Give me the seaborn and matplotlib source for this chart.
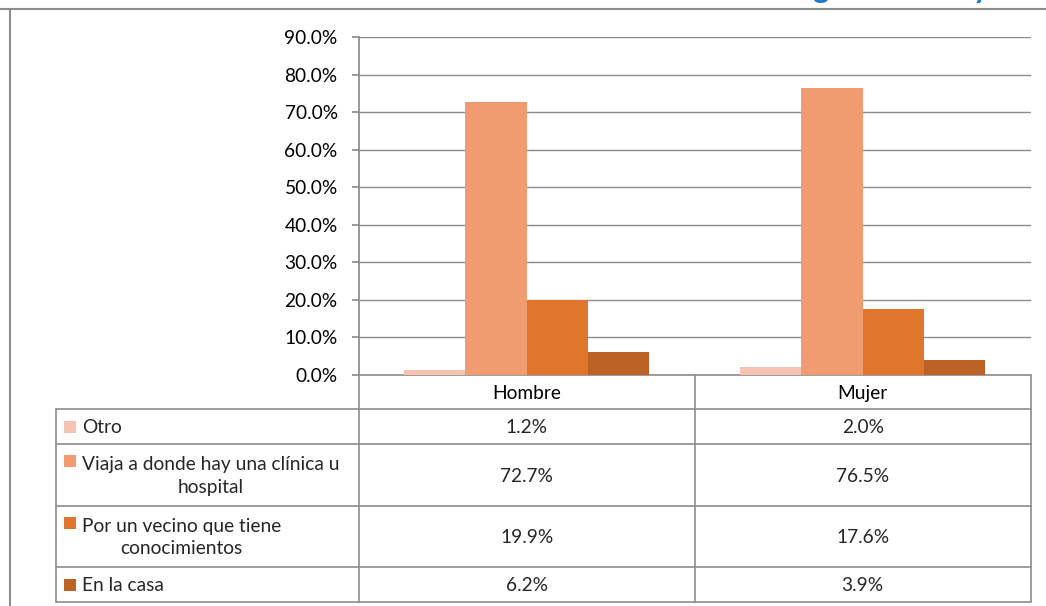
# Gráfico: dónde recibió atención, por sexo (barras + tabla de datos)
import numpy as np
import pandas as pd
import matplotlib
matplotlib.use('Agg')
import matplotlib.pyplot as plt
import seaborn as sns
from matplotlib.patches import Rectangle
from matplotlib.ticker import PercentFormatter

# datos
sexos = ['Hombre', 'Mujer']
categorias = ['Otro',
              'Viaja a donde hay una clínica u\nhospital',
              'Por un vecino que tiene\nconocimientos',
              'En la casa']
hombre = [1.2, 72.7, 19.9, 6.2]
mujer = [2.0, 76.5, 17.6, 3.9]
colores = ['#F5C3B1', '#F09B72', '#E0762E', '#BC6224']
y_ticks = [0, 10, 20, 30, 40, 50, 60, 70, 80, 90]

df = pd.DataFrame({
    'sexo': np.repeat(sexos, len(categorias)),
    'categoria': categorias * len(sexos),
    'valor': hombre + mujer,
})

sns.set_theme(style='white')
plt.rcParams['font.family'] = ['Lato', 'DejaVu Sans']
gris = '#8c8c8c'
fs = 13.8

W, H = 1046, 606
fig = plt.figure(figsize=(W / 100, H / 100), dpi=100)

# zona de barras (en píxeles)
x0, x1 = 358.5, 1030.5
y_top, y_base = 37, 375
ax = fig.add_axes([x0 / W, 1 - y_base / H, (x1 - x0) / W, (y_base - y_top) / H])
ax.patch.set_alpha(0)
sns.barplot(data=df, x='sexo', y='valor', hue='categoria',
            order=sexos, hue_order=categorias, palette=colores,
            width=0.73, saturation=1, linewidth=0, legend=False, ax=ax)
ax.set_xlim(-0.5, 1.5)
ax.set_ylim(0, 90)
ax.set_yticks(y_ticks)
ax.yaxis.set_major_formatter(PercentFormatter(decimals=1))
ax.grid(axis='y', color=gris, lw=1)
ax.set_axisbelow(True)
ax.set_xlabel('')
ax.set_ylabel('')
for s in ['top', 'right', 'bottom']:
    ax.spines[s].set_visible(False)
ax.spines['left'].set_color(gris)
ax.tick_params(axis='y', left=True, length=5, color=gris, labelsize=fs, pad=10,
               labelcolor='black')
ax.tick_params(axis='x', length=0, labelsize=fs, pad=7, labelcolor='black')

# tabla de datos debajo del gráfico
tab = fig.add_axes([0, 0, 1, 1], zorder=-1)
tab.set_xlim(0, W)
tab.set_ylim(H, 0)
tab.axis('off')

filas_y = [409, 444, 506, 567, 602]
col_x = [56, x0, 695, x1]
for y in filas_y:
    tab.plot([col_x[0], x1], [y, y], color=gris, lw=1.2)
tab.plot([x0, x1], [y_base, y_base], color=gris, lw=1.2)
tab.plot([col_x[0], col_x[0]], [filas_y[0], filas_y[-1]], color=gris, lw=1.2)
for x in col_x[1:]:
    tab.plot([x, x], [y_base, filas_y[-1]], color=gris, lw=1.2)

centros_col = [(col_x[1] + col_x[2]) / 2, (col_x[2] + col_x[3]) / 2]
for i, cat in enumerate(categorias):
    yc = (filas_y[i] + filas_y[i + 1]) / 2
    n_lineas = cat.count('\n') + 1
    y_sw = yc - 14 if n_lineas > 1 else yc
    tab.add_patch(Rectangle((64, y_sw - 6), 12, 12, color=colores[i], lw=0))
    tab.text(82, yc + 1, cat, ha='left', va='center', multialignment='center',
             fontsize=fs, linespacing=1.42)
    for j, vals in enumerate([hombre, mujer]):
        tab.text(centros_col[j], yc + 1, f'{vals[i]:.1f}%', ha='center', va='center',
                 fontsize=fs)

# marco del área del gráfico
tab.plot([0, W], [9, 9], color=gris, lw=1.5)
tab.plot([10, 10], [9, H], color=gris, lw=1.5)

# título cortado en la parte superior (solo se ven los trazos inferiores)
fig.text(537 / W, 1 + 2 / H, 'Atención recibida según el sexo y', color='#1F78C8',
         fontweight='bold', fontsize=22, ha='left', va='baseline')

fig.savefig('out.png', dpi=100)
